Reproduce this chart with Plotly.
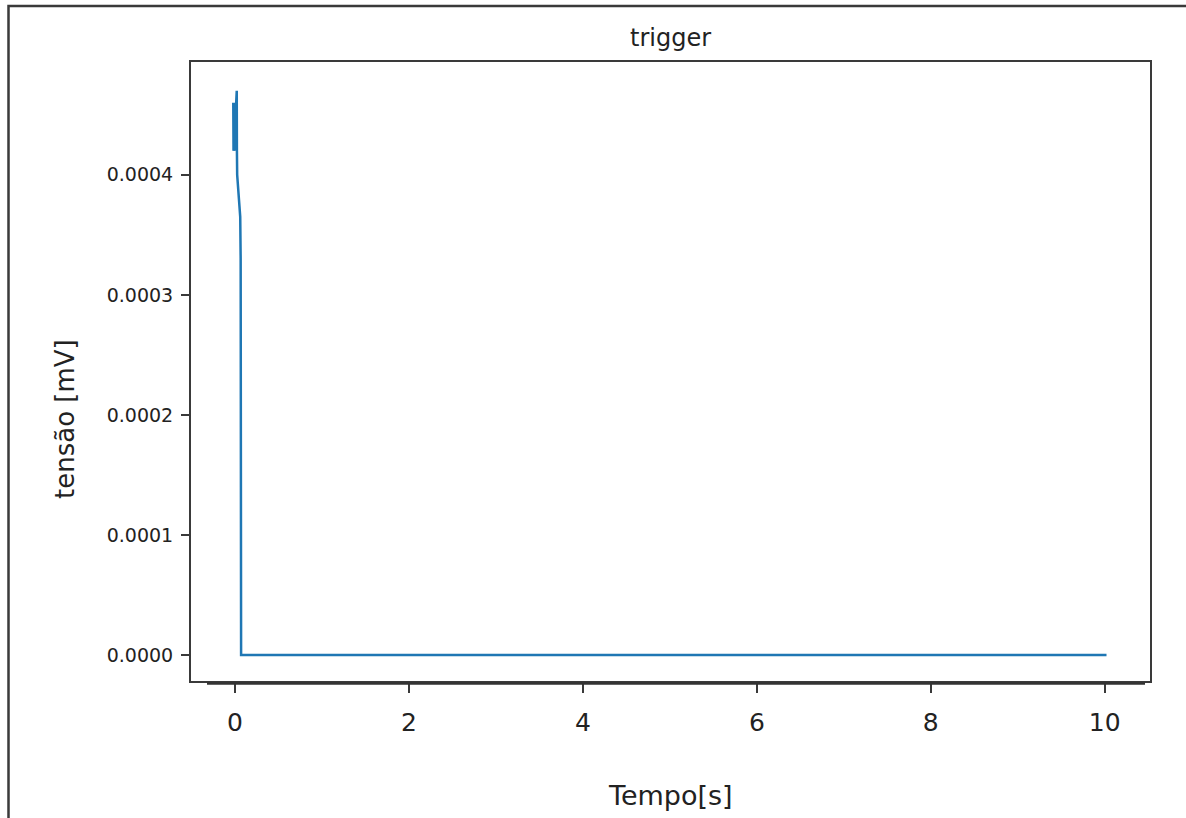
import plotly.graph_objects as go

# data
tempo = [-0.02, -0.017, -0.014, -0.011, -0.008, -0.005, -0.002, 0.0, 0.01, 0.02,
         0.022, 0.025, 0.045, 0.06, 0.065, 0.07, 10.02]
tensao = [0.00046, 0.00042, 0.000455, 0.000425, 0.00046, 0.00042, 0.000455, 0.00043,
          0.000455, 0.00047, 0.00042, 0.0004, 0.00038, 0.000365, 0.00033, 0.0, 0.0]

x_ticks = [0, 2, 4, 6, 8, 10]
y_ticks = [0.0, 0.0001, 0.0002, 0.0003, 0.0004]
y_tick_text = ["0.0000", "0.0001", "0.0002", "0.0003", "0.0004"]

W, H = 1186, 818
L, R, T, B = 191, 36, 62, 137
pw, ph = W - L - R, H - T - B


def px(xp):
    return (xp - L) / pw


def py(yp):
    return (H - B - yp) / ph


fig = go.Figure()
fig.add_trace(go.Scatter(x=tempo, y=tensao, mode="lines",
                         line=dict(color="#1f77b4", width=2.5), showlegend=False))

axis_common = dict(showgrid=False, zeroline=False, showline=True, mirror=True,
                   linecolor="#3a3a3a", linewidth=2, ticks="outside",
                   tickcolor="#3a3a3a", tickwidth=2)

fig.update_layout(
    width=W, height=H,
    margin=dict(l=L, r=R, t=T, b=B),
    paper_bgcolor="white", plot_bgcolor="white",
    font=dict(family="DejaVu Sans", color="#222222"),
    title=dict(text="trigger", xref="paper", x=0.5, xanchor="center", y=1 - 38 / H,
               yanchor="middle", font=dict(size=24, color="#222222")),
    xaxis=dict(range=[-0.506, 10.52], tickvals=x_ticks, ticklen=10,
               ticklabelstandoff=8,
               tickfont=dict(size=25, color="#222222"),
               **axis_common),
    yaxis=dict(range=[-0.0000217, 0.000494], tickvals=y_ticks, ticktext=y_tick_text,
               ticklen=8, ticklabelstandoff=4,
               tickfont=dict(size=19, color="#222222"),
               **axis_common),
    annotations=[
        dict(text="Tempo[s]", xref="paper", yref="paper", x=px(670.5), y=py(795),
             xanchor="center", yanchor="middle", showarrow=False,
             font=dict(size=27, color="#222222")),
        dict(text="tensão [mV]", xref="paper", yref="paper", x=px(65), y=py(419),
             xanchor="center", yanchor="middle", textangle=-90, showarrow=False,
             font=dict(size=26, color="#222222")),
    ],
    shapes=[
        # outer frame of the screenshot
        dict(type="rect", xref="paper", yref="paper",
             x0=px(8.5), x1=px(1200), y0=py(830), y1=py(6),
             line=dict(color="#3a3a3a", width=2.5), fillcolor="rgba(0,0,0,0)"),
        # offset bottom axis line
        dict(type="line", xref="paper", yref="paper",
             x0=px(207), x1=px(1145), y0=py(683.5), y1=py(683.5),
             line=dict(color="#333333", width=2.5)),
    ],
)

fig.write_html("out.html")
